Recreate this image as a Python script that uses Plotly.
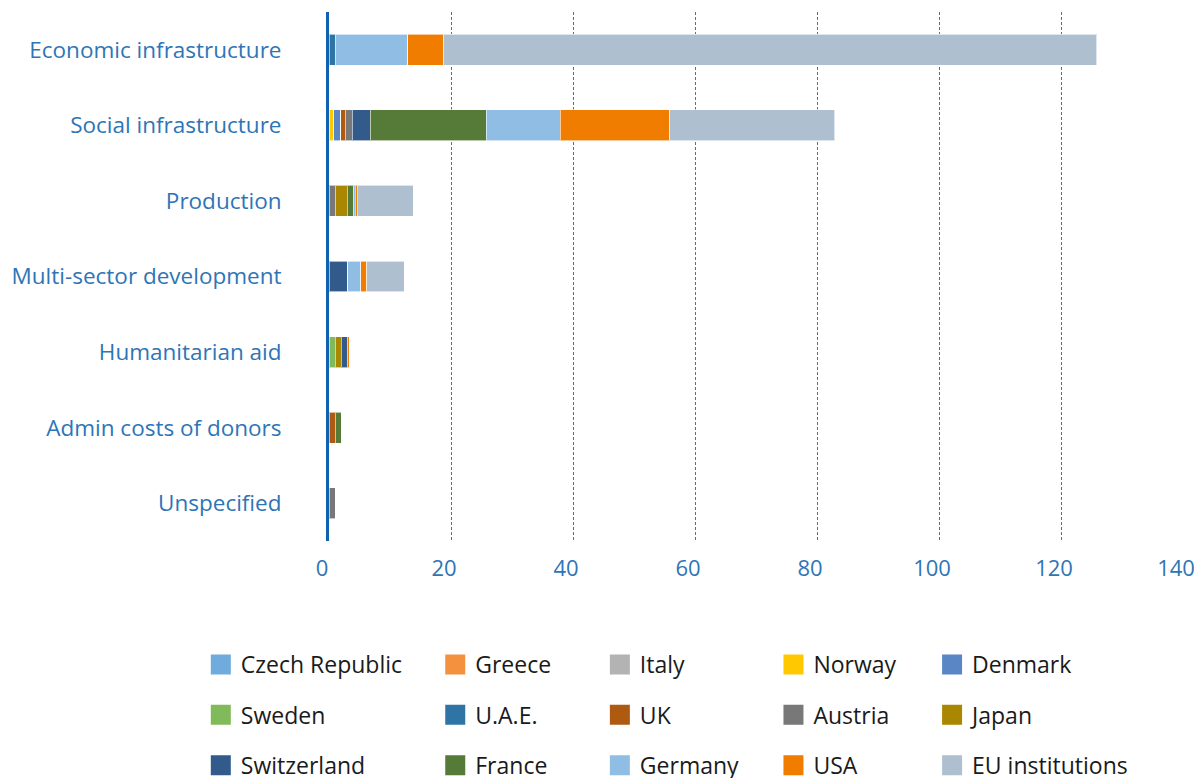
"""Stacked horizontal bars: aid by sector and donor."""

import plotly.graph_objects as go

sectors = [
    "Economic infrastructure",
    "Social infrastructure",
    "Production",
    "Multi-sector development",
    "Humanitarian aid",
    "Admin costs of donors",
    "Unspecified",
]

donors = [
    "Czech Republic", "Greece", "Italy", "Norway", "Denmark",
    "Sweden", "U.A.E.", "UK", "Austria", "Japan",
    "Switzerland", "France", "Germany", "USA", "EU institutions",
]

# values per donor, in sector order above
czech_republic = [0, 0, 0, 0, 0, 0, 0]
greece = [0, 0, 0, 0, 0, 0, 0]
italy = [0, 0, 0, 0, 0, 0, 0]
norway = [0, 0.8, 0, 0, 0, 0, 0]
denmark = [0, 1.1, 0, 0, 0, 0, 0]
sweden = [0, 0, 0, 0, 1.0, 0, 0]
uae = [1.0, 0, 0, 0, 0, 0, 0]
uk = [0, 0.8, 0, 0, 0, 1.0, 0]
austria = [0, 1.1, 1.0, 0, 0, 0, 1.0]
japan = [0, 0, 2.0, 0, 1.0, 0, 0]
switzerland = [0, 3.0, 0, 3.1, 1.0, 0, 0]
france = [0, 19.0, 1.0, 0, 0, 1.0, 0]
germany = [11.9, 12.1, 0.3, 2.1, 0, 0, 0]
usa = [5.9, 18.0, 0.3, 1.0, 0.3, 0, 0]
eu_institutions = [107.1, 27.0, 9.2, 6.1, 0, 0, 0]

values = [
    czech_republic, greece, italy, norway, denmark,
    sweden, uae, uk, austria, japan,
    switzerland, france, germany, usa, eu_institutions,
]

colors = [
    "#6fabdc", "#f3913f", "#b3b3b3", "#ffc800", "#5a86c6",
    "#80ba5a", "#2e75a6", "#ae5a10", "#787878", "#a98700",
    "#325b8c", "#567a38", "#8fbde3", "#f07c00", "#aebfcf",
]

BLUE = "#2e75b6"
FONT = "Open Sans"
W, H = 1194, 770
PLOT_L, PLOT_R = 319, 1175

fig = go.Figure()

for name, vals, color in zip(donors, values, colors):
    fig.add_trace(go.Bar(
        name=name,
        y=sectors,
        x=vals,
        orientation="h",
        marker=dict(color=color, line=dict(color="rgba(255,255,255,0.6)", width=1)),
        width=0.41,
        showlegend=False,
    ))

# legend entries: five columns of three, one legend per column
legend_x = [190.5, 425.5, 590.5, 764.5, 923.5]
for i, (name, color) in enumerate(zip(donors, colors)):
    col = i % 5
    fig.add_trace(go.Scatter(
        name=name,
        x=[None],
        y=[None],
        mode="markers",
        marker=dict(symbol="square", size=16, color=color, line=dict(color=color, width=4)),
        legend="legend" if col == 0 else f"legend{col + 1}",
        legendgroup=name,
        hoverinfo="skip",
    ))

legends = {}
for col, lx in enumerate(legend_x):
    key = "legend" if col == 0 else f"legend{col + 1}"
    legends[key] = dict(
        xref="paper",
        yref="container",
        x=(lx - PLOT_L) / (PLOT_R - PLOT_L),
        y=1 - 635 / H,
        xanchor="left",
        yanchor="top",
        orientation="v",
        traceorder="grouped",
        tracegroupgap=17.5,
        font=dict(family=FONT, size=23, color="#1a1a1a"),
        bgcolor="rgba(0,0,0,0)",
    )

fig.update_layout(
    width=W,
    height=H,
    paper_bgcolor="white",
    plot_bgcolor="white",
    barmode="stack",
    margin=dict(l=PLOT_L, r=W - PLOT_R, t=4, b=237),
    font=dict(family=FONT),
    xaxis=dict(
        range=[0, 140],
        dtick=20,
        showgrid=True,
        gridcolor="#2a7bc4",
        griddash="3px,2px",
        gridwidth=1,
        zeroline=False,
        showline=False,
        ticks="",
        ticklabelstandoff=12,
        ticklabelshift=-7,
        tickfont=dict(family=FONT, size=22, color=BLUE),
        fixedrange=True,
    ),
    yaxis=dict(
        autorange="reversed",
        showgrid=False,
        showline=True,
        linecolor="#0f62b0",
        linewidth=3,
        ticks="",
        ticklabelstandoff=40,
        tickfont=dict(family=FONT, size=22.5, color=BLUE),
        fixedrange=True,
    ),
    showlegend=True,
    **legends,
)

fig.write_html("out.html")
